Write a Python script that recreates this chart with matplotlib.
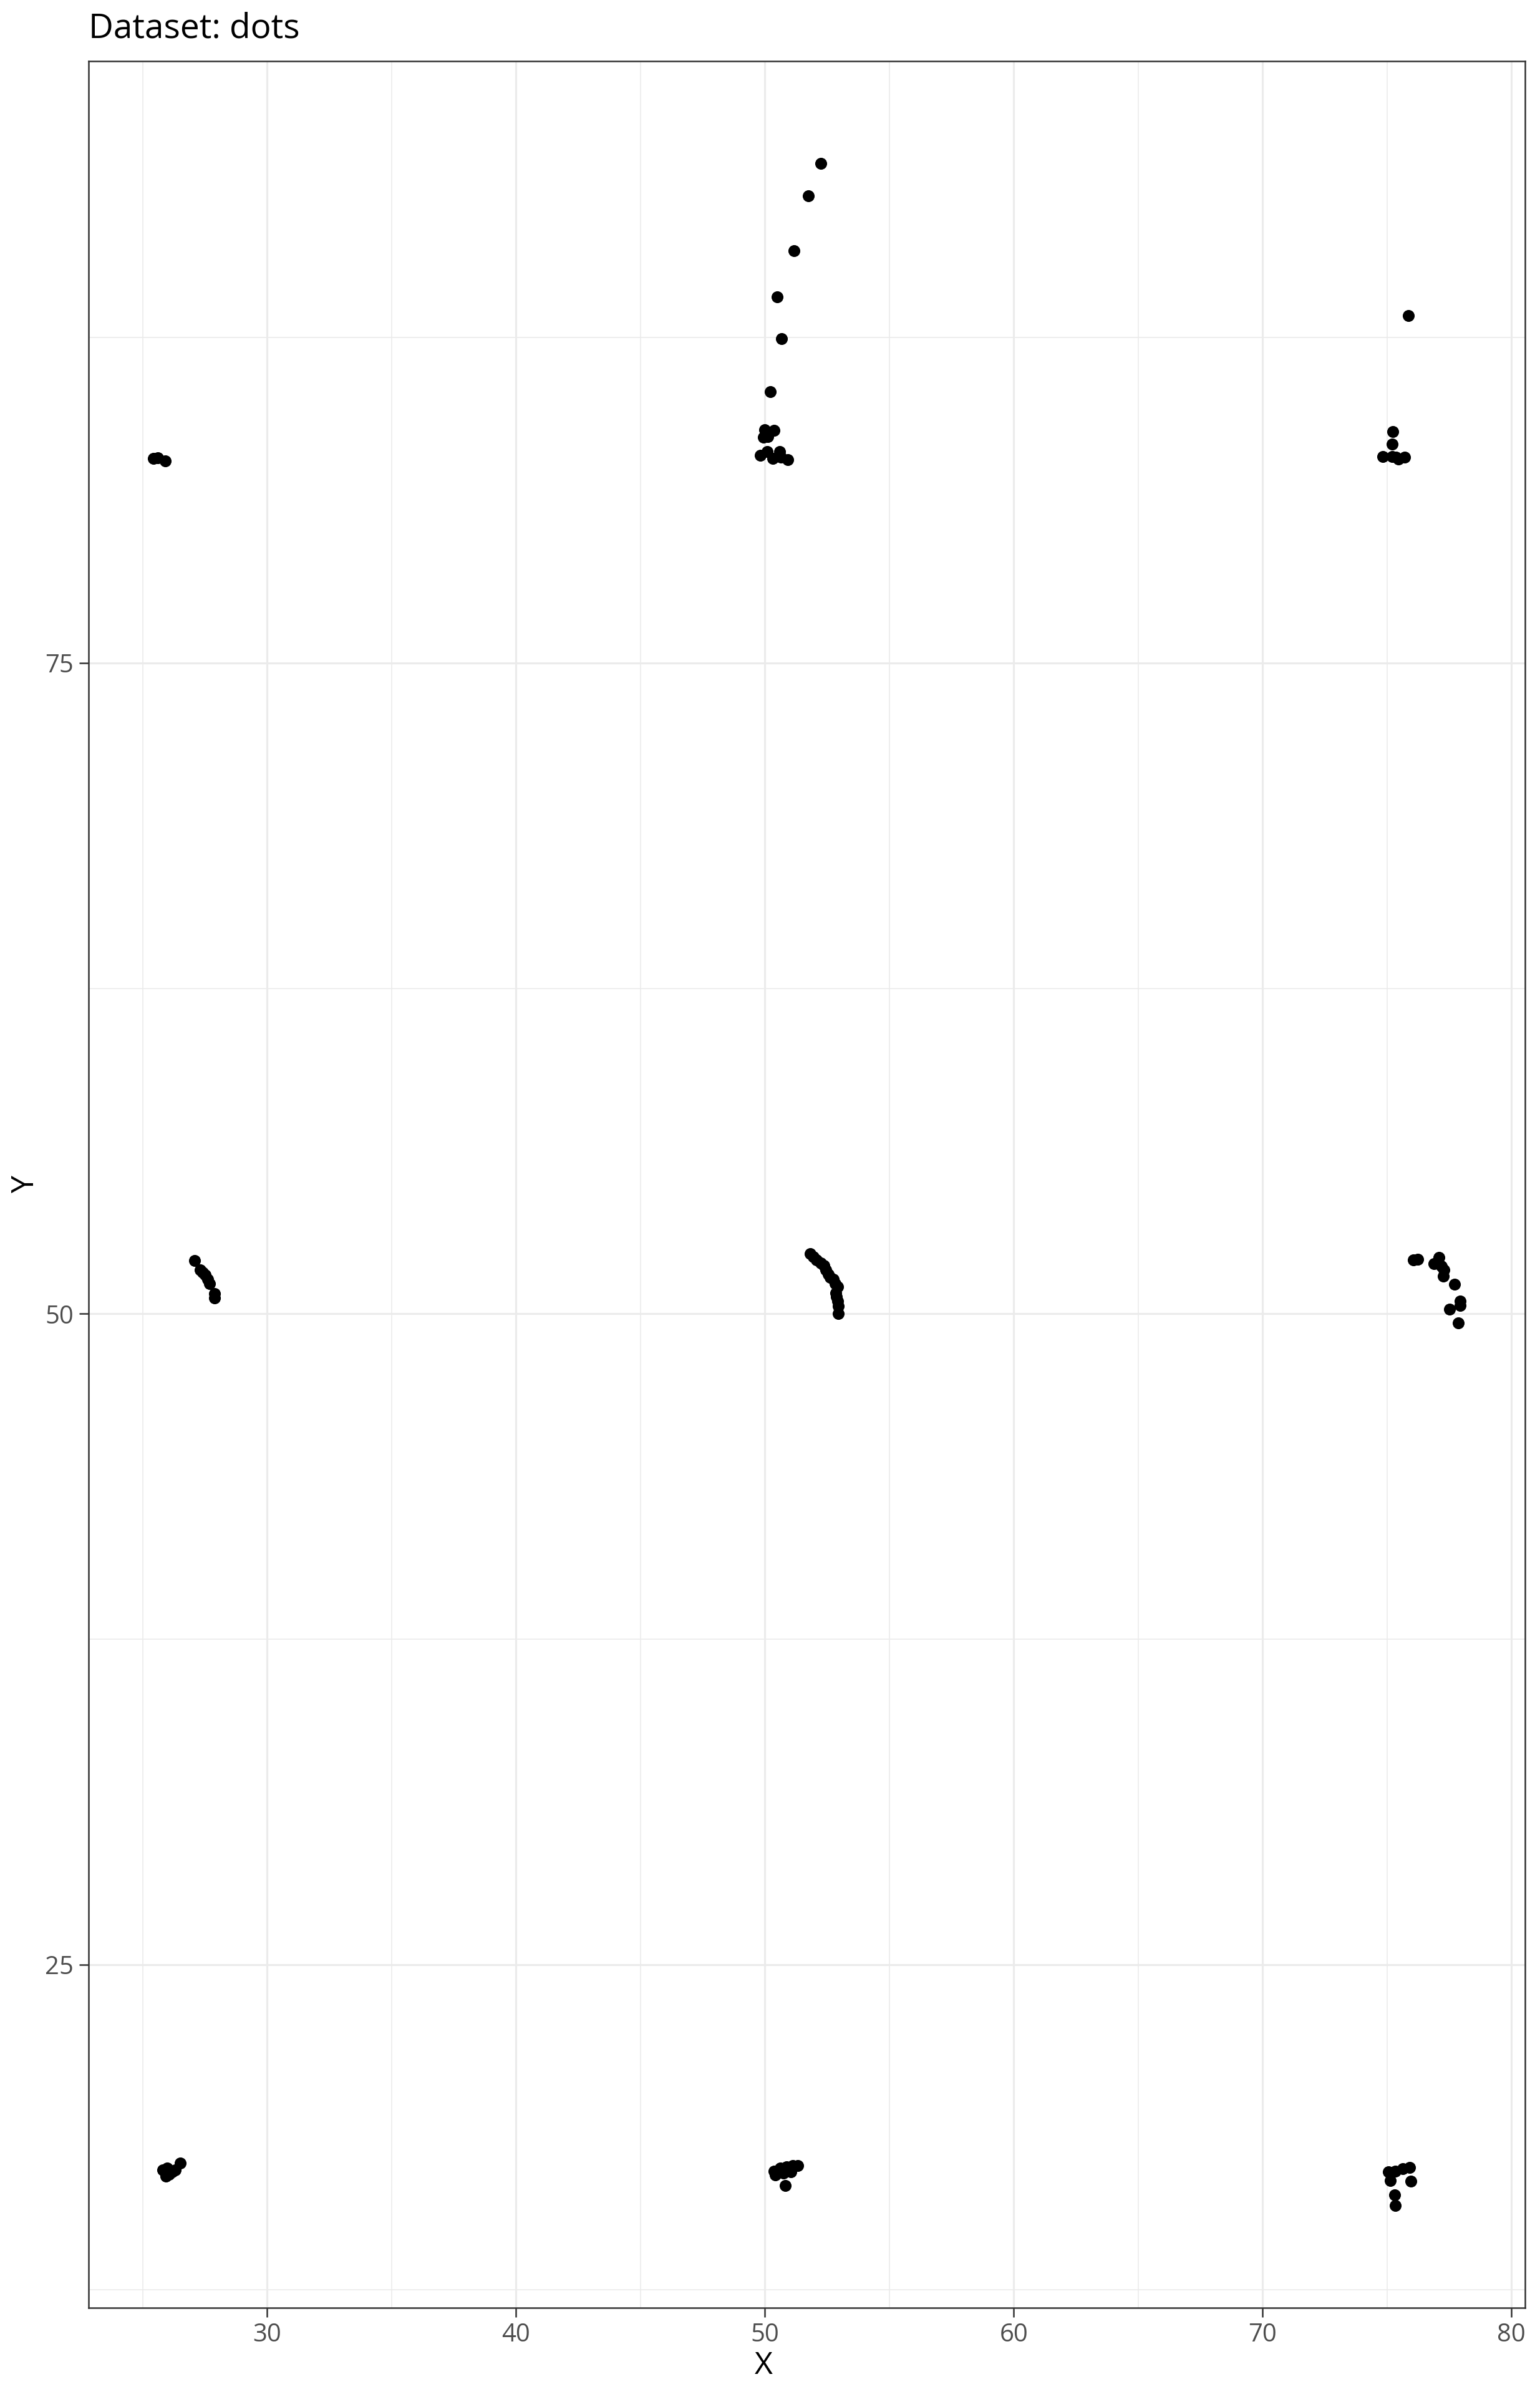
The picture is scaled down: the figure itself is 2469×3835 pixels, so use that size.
import numpy as np
import matplotlib
matplotlib.use("Agg")
import matplotlib.pyplot as plt
from matplotlib.ticker import MultipleLocator

plt.rcParams['font.family'] = ['Open Sans', 'DejaVu Sans']

# points, one list pair per cluster
top_left_x = [25.44, 25.61, 25.92]
top_left_y = [82.86, 82.89, 82.77]

top_mid_x = [52.25, 51.75, 51.17, 50.50, 50.67, 50.22, 49.99, 50.38, 49.94, 50.11,
             49.82, 50.09, 50.33, 50.60, 50.91, 50.64]
top_mid_y = [94.20, 92.94, 90.83, 89.06, 87.47, 85.43, 83.97, 83.93, 83.67, 83.70,
             82.97, 83.12, 82.86, 83.12, 82.81, 82.90]

top_right_x = [75.86, 75.24, 75.20, 74.82, 75.22, 75.47, 75.72, 75.35]
top_right_y = [88.35, 83.88, 83.42, 82.94, 82.94, 82.84, 82.90, 82.92]

mid_left_x = [27.09, 27.32, 27.42, 27.50, 27.61, 27.69, 27.89, 27.90]
mid_left_y = [52.04, 51.68, 51.60, 51.49, 51.32, 51.17, 50.77, 50.61]

mid_mid_x = [51.83, 51.95, 52.08, 52.25, 52.37, 52.46, 52.54, 52.62, 52.75, 52.83,
             52.92, 52.86, 52.87, 52.92, 52.96, 52.94]
mid_mid_y = [52.31, 52.20, 52.08, 51.96, 51.86, 51.68, 51.53, 51.41, 51.32, 51.17,
             51.05, 50.81, 50.65, 50.49, 50.29, 50.02]

mid_right_x = [76.05, 76.24, 77.08, 76.89, 77.18, 77.30, 77.26, 77.72, 77.93, 77.93,
               77.51, 77.86]
mid_right_y = [52.08, 52.10, 52.16, 51.92, 51.84, 51.68, 51.44, 51.13, 50.49, 50.33,
               50.17, 49.65]

bot_left_x = [25.81, 25.98, 26.06, 26.19, 25.94, 26.31, 26.51]
bot_left_y = [17.11, 17.19, 16.95, 17.03, 16.87, 17.11, 17.37]

bot_mid_x = [50.37, 50.62, 50.87, 51.12, 51.33, 50.41, 50.74, 51.04, 50.83]
bot_mid_y = [17.07, 17.19, 17.23, 17.27, 17.27, 16.91, 16.99, 17.03, 16.51]

bot_right_x = [75.05, 75.34, 75.63, 75.91, 75.13, 75.97, 75.30, 75.34]
bot_right_y = [17.03, 17.07, 17.15, 17.21, 16.71, 16.68, 16.16, 15.74]

x = np.concatenate([top_left_x, top_mid_x, top_right_x, mid_left_x, mid_mid_x,
                    mid_right_x, bot_left_x, bot_mid_x, bot_right_x])
y = np.concatenate([top_left_y, top_mid_y, top_right_y, mid_left_y, mid_mid_y,
                    mid_right_y, bot_left_y, bot_mid_y, bot_right_y])

W, H, DPI = 2469, 3835, 300
fig = plt.figure(figsize=(W / DPI, H / DPI), dpi=DPI)
left, right = 141.6 / W, 2445.3 / W
top, bottom = 1 - 98.0 / H, 1 - 3700.0 / H
ax = fig.add_axes([left, bottom, right - left, top - bottom])

ax.scatter(x, y, s=21, color='black', linewidths=0, zorder=3)

# ggplot style 5% expansion around the data
xpad = 0.05 * (x.max() - x.min())
ypad = 0.05 * (y.max() - y.min())
ax.set_xlim(x.min() - xpad, x.max() + xpad)
ax.set_ylim(y.min() - ypad, y.max() + ypad)
ax.xaxis.set_major_locator(MultipleLocator(10))
ax.xaxis.set_minor_locator(MultipleLocator(5))
ax.yaxis.set_major_locator(MultipleLocator(25))
ax.yaxis.set_minor_locator(MultipleLocator(12.5))

ax.grid(which='major', color='#EBEBEB', linewidth=0.75, zorder=0)
ax.grid(which='minor', color='#EBEBEB', linewidth=0.4, zorder=0)
ax.set_axisbelow(True)
for sp in ax.spines.values():
    sp.set_color('#333333')
    sp.set_linewidth(0.6)

ax.tick_params(which='major', length=3.5, width=0.6, color='#333333',
               labelcolor='#4D4D4D', labelsize=9.6, pad=2.2)
ax.tick_params(which='minor', length=0)

ax.set_xlabel('X', fontsize=12, color='black')
ax.xaxis.set_label_coords(0.47, -0.019)
ax.set_ylabel('Y', fontsize=12, color='black', labelpad=1.5)
ax.set_title('Dataset: dots', fontsize=13.2, loc='left', pad=9, color='black')

fig.savefig('out.png', dpi=DPI)
